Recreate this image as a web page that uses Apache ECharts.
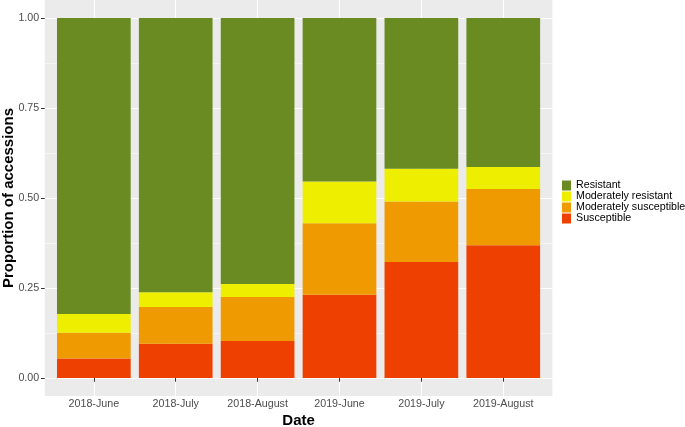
<!DOCTYPE html>
<html><head><meta charset="utf-8">
<script src="https://cdn.jsdelivr.net/npm/echarts@6/dist/echarts.min.js"></script>
<style>html,body{margin:0;padding:0;background:#fff}#c{width:685px;height:427px}</style>
</head><body><div id="c"></div>
<script>
const categories = ['2018-June', '2018-July', '2018-August', '2019-June', '2019-July', '2019-August'];
const susceptible = [0.054, 0.095, 0.103, 0.231, 0.322, 0.369];
const modSusceptible = [0.072, 0.102, 0.122, 0.199, 0.168, 0.156];
const modResistant = [0.052, 0.041, 0.036, 0.116, 0.091, 0.061];
const resistant = [0.822, 0.762, 0.739, 0.454, 0.419, 0.414];
const yTicks = [0, 0.25, 0.5, 0.75, 1];
const yMinor = [0.125, 0.375, 0.625, 0.875];
const legendOrder = ['Resistant', 'Moderately resistant', 'Moderately susceptible', 'Susceptible'];

const gridLeft = 44.7, gridRight = 132.6, gridTop = 0, gridBottom = 31, W = 685;
const xMin = 0.4, xMax = categories.length + 0.6;
const unitPx = (W - gridLeft - gridRight) / (xMax - xMin);
const positions = categories.map((c, i) => i + 1);
const yMin = -0.05, yMax = 1.05;

function mk(name, vals, color) {
  return {
    name: name, type: 'bar', stack: 'total',
    xAxisIndex: 1, yAxisIndex: 2,
    barCategoryGap: '10%',
    itemStyle: { color: color },
    data: vals
  };
}

const chart = echarts.init(document.getElementById('c'), null, { renderer: 'canvas' });
chart.setOption({
  animation: false,
  backgroundColor: '#ffffff',
  textStyle: { fontFamily: 'Liberation Sans, Arial, sans-serif' },
  grid: [
    { left: gridLeft, right: gridRight, top: gridTop, bottom: gridBottom, containLabel: false, outerBoundsMode: 'none',
      show: true, backgroundColor: '#EBEBEB', borderWidth: 0 },
    { left: gridLeft + 0.1 * unitPx, right: gridRight + 0.1 * unitPx, top: gridTop, bottom: gridBottom,
      containLabel: false, outerBoundsMode: 'none', show: false }
  ],
  legend: {
    orient: 'vertical', left: 562, top: 180, itemWidth: 9, itemHeight: 10, itemGap: 0, padding: 0,
    icon: 'rect', selectedMode: false, data: legendOrder,
    textStyle: { fontSize: 10.7, color: '#000', lineHeight: 10 }
  },
  xAxis: [{
    type: 'value', min: xMin, max: xMax, gridIndex: 0,
    axisLine: { show: false },
    axisTick: { show: true, customValues: positions, length: 3.7, lineStyle: { color: '#333333', width: 1 } },
    axisLabel: { customValues: positions, formatter: v => categories[Math.round(v) - 1], color: '#4D4D4D', fontSize: 10.7, margin: 3 },
    splitLine: { show: true, lineStyle: { color: '#ffffff', width: 1.1 } },
    name: 'Date', nameLocation: 'middle', nameGap: 17, nameMoveOverlap: false,
    nameTextStyle: { fontWeight: 'bold', fontSize: 15, color: '#000' }
  }, {
    type: 'category', gridIndex: 1, data: categories, boundaryGap: true,
    axisLine: { show: false }, axisTick: { show: false }, axisLabel: { show: false }, splitLine: { show: false }
  }],
  yAxis: [{
    type: 'value', min: yMin, max: yMax, gridIndex: 0,
    axisLine: { show: false },
    axisTick: { show: true, customValues: yTicks, length: 3.7, lineStyle: { color: '#333333', width: 1 } },
    axisLabel: { customValues: yTicks, formatter: v => v.toFixed(2), color: '#4D4D4D', fontSize: 10.7, margin: 5.5 },
    splitLine: { show: true, lineStyle: { color: '#ffffff', width: 1.1 } },
    name: 'Proportion of accessions', nameLocation: 'middle', nameGap: 28, nameMoveOverlap: false,
    nameTextStyle: { fontWeight: 'bold', fontSize: 15, color: '#000' }
  }, {
    type: 'value', min: yMin, max: yMax, gridIndex: 0, position: 'left',
    axisLine: { show: false },
    axisTick: { show: false, customValues: yMinor },
    axisLabel: { show: false, customValues: yMinor },
    splitLine: { show: true, lineStyle: { color: '#F5F5F5', width: 1 } }
  }, {
    type: 'value', min: yMin, max: yMax, gridIndex: 1,
    axisLine: { show: false }, axisTick: { show: false }, axisLabel: { show: false }, splitLine: { show: false }
  }],
  series: [
    mk('Susceptible', susceptible, '#EE4000'),
    mk('Moderately susceptible', modSusceptible, '#EE9A00'),
    mk('Moderately resistant', modResistant, '#EEEE00'),
    mk('Resistant', resistant, '#698B22')
  ]
});
</script></body></html>
